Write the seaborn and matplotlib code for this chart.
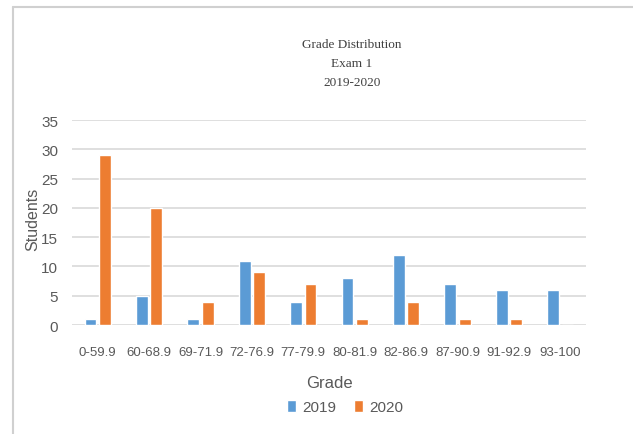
import matplotlib
matplotlib.use("Agg")
import matplotlib.pyplot as plt
import seaborn as sns
import pandas as pd
from matplotlib.lines import Line2D
from matplotlib.patches import Patch

categories = ["0-59.9", "60-68.9", "69-71.9", "72-76.9", "77-79.9",
              "80-81.9", "82-86.9", "87-90.9", "91-92.9", "93-100"]
students_2019 = [1, 5, 1, 11, 4, 8, 12, 7, 6, 6]
students_2020 = [29, 20, 4, 9, 7, 1, 4, 1, 1, 0]
years = ["2019", "2020"]
title_lines = ["Grade Distribution", "Exam 1", "2019-2020"]

df = pd.DataFrame({
    "Grade": categories * 2,
    "Students": students_2019 + students_2020,
    "Year": [years[0]] * len(categories) + [years[1]] * len(categories),
})

sns.set_theme(style="white")
plt.rcParams["font.family"] = ["Liberation Sans", "DejaVu Sans"]

blue = "#5B9BD5"
orange = "#ED7D31"
gray = "#595959"

fig = plt.figure(figsize=(6.33, 4.35), dpi=100)
ax = fig.add_axes([72 / 633, 1 - 326 / 435, (586 - 72) / 633, (326 - 121) / 435])

sns.barplot(data=df, x="Grade", y="Students", hue="Year", order=categories,
            hue_order=years, palette=[blue, orange], width=0.56, gap=0.18,
            saturation=1, ax=ax, legend=False)

ax.set_ylim(0, 35)
ax.set_xlim(-0.5, len(categories) - 0.5)
ax.set_yticks(range(0, 36, 5))
ax.yaxis.grid(True, color="#d9d9d9", linewidth=1.2)
ax.set_axisbelow(True)
for s in ax.spines.values():
    s.set_visible(False)
ax.tick_params(axis="y", length=0, colors=gray, labelsize=11, pad=10)
ax.tick_params(axis="x", length=0, colors=gray, labelsize=9.5, pad=15)
ax.set_xlabel("Grade", fontsize=12, color=gray, labelpad=12)
ax.set_ylabel("Students", fontsize=11.5, color=gray)
ax.yaxis.set_label_coords((40 - 72) / 514, 0.52)

for i, line in enumerate(title_lines):
    fig.text(352 / 633, 1 - (45 + i * 19) / 435, line, ha="center", va="center",
             fontsize=9.5, color="#404040", family=["Liberation Serif", "DejaVu Serif"])

handles = [Patch(facecolor=blue, label=years[0]), Patch(facecolor=orange, label=years[1])]
leg = fig.legend(handles=handles, loc="center", bbox_to_anchor=(345 / 633, 1 - 408 / 435),
                 ncol=2, frameon=False, fontsize=11, handlelength=0.6, handleheight=0.9,
                 handletextpad=0.4, columnspacing=1.2)
for t in leg.get_texts():
    t.set_color(gray)

fig.add_artist(Line2D([13 / 633, 13 / 633], [0, 1 - 8 / 435], transform=fig.transFigure,
                      color="#d0d0d0", linewidth=1.5))
fig.add_artist(Line2D([13 / 633, 1], [1 - 8 / 435, 1 - 8 / 435], transform=fig.transFigure,
                      color="#d0d0d0", linewidth=1.5))

fig.savefig("out.png", dpi=100)
